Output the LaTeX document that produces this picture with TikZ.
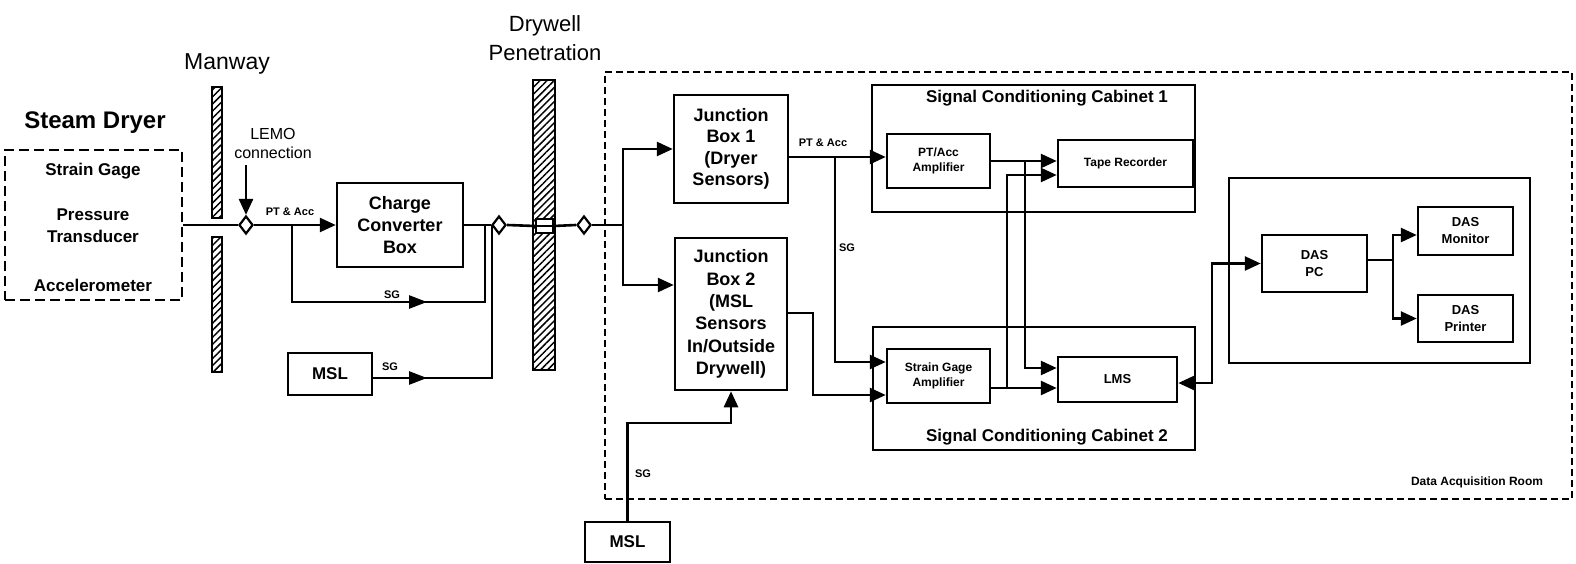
\documentclass[tikz,border=0pt]{standalone}
\usepackage{fontspec}
\setmainfont{Liberation Sans}
\usetikzlibrary{arrows.meta,shapes.geometric,patterns.meta}
\newcommand\myfs[2]{\fontsize{#1}{#2}\selectfont}
\tikzset{
  box/.style={draw,line width=2.5pt,inner sep=0pt,align=center},
  wire/.style={line width=2.6pt},
  arr/.style={wire,-{Triangle[length=16pt,width=14pt]}},
  midarr/.style={wire,-{Triangle[length=18pt,width=13pt]}},
  lbl/.style={font=\bfseries\myfs{11}{13},inner sep=0pt},
  dmd/.style={diamond,draw,fill=white,line width=2.2pt,minimum width=14pt,minimum height=18pt,inner sep=0pt},
  wall/.style={pattern={Lines[angle=45,distance=5pt,line width=1.5pt]},draw,line width=2pt},
}
\begin{document}
\begin{tikzpicture}[x=1pt,y=-1pt]
\useasboundingbox (0,0) rectangle (1576,564);

% titles
\node[font=\bfseries\myfs{24}{28}] (sdtitle) at (95,123) {Steam Dryer};
\node[font=\myfs{23}{26}] (mwtitle) at (227,64) {Manway};
\node[font=\myfs{22}{29},align=center] (dwtitle) at (545,38) {Drywell\\Penetration};

% steam dryer box
\node[draw,line width=2.8pt,dash pattern=on 10pt off 5pt,minimum width=177pt,minimum height=150pt] (sd) at (93.5,225) {};
\node[font=\bfseries\myfs{17}{22}] (sdt1) at (93,171) {Strain Gage};
\node[font=\bfseries\myfs{17}{22},align=center] (sdt2) at (93,226) {Pressure\\Transducer};
\node[font=\bfseries\myfs{17}{22}] (sdt3) at (93,285) {Accelerometer};

% walls
\path[wall] (212,87) rectangle (222,218);
\path[wall] (212,237) rectangle (222,372);
\path[wall] (533,80) rectangle (555,370);
\node[draw,fill=white,line width=1.5pt,minimum width=17pt,minimum height=14pt,inner sep=0pt] (pen) at (544.5,226) {};

% data acquisition room
\node[draw,line width=2pt,dash pattern=on 7pt off 4pt,minimum width=967pt,minimum height=427pt] (dar) at (1088.5,285.5) {};
\node[font=\bfseries\myfs{12}{14}] (darl) at (1477,482) {Data Acquisition Room};

% boxes
\node[box,minimum width=126pt,minimum height=84pt,font=\bfseries\myfs{18}{22}] (cc) at (400,225) {Charge\\Converter\\Box};
\node[box,minimum width=84pt,minimum height=42pt,font=\bfseries\myfs{17}{20}] (msl1) at (330,374) {MSL};
\node[box,minimum width=85pt,minimum height=40pt,font=\bfseries\myfs{17}{20}] (msl2) at (627.5,542) {MSL};
\node[box,minimum width=114pt,minimum height=108pt,font=\bfseries\myfs{18}{21.5}] (jb1) at (731,149) {Junction\\Box 1\\(Dryer\\Sensors)};
\node[box,minimum width=112pt,minimum height=152pt,font=\bfseries\myfs{18}{22.4}] (jb2) at (731,314) {Junction\\Box 2\\(MSL\\Sensors\\In/Outside\\Drywell)};

\node[box,minimum width=323pt,minimum height=127pt] (cab1) at (1033.5,148.5) {};
\node[font=\bfseries\myfs{17}{20}] (cab1t) at (1047,98) {Signal Conditioning Cabinet 1};
\node[box,minimum width=103pt,minimum height=54pt,font=\bfseries\myfs{12}{15}] (pta) at (938.5,161) {PT/Acc\\Amplifier};
\node[box,minimum width=135pt,minimum height=47pt,font=\bfseries\myfs{12}{15}] (tr) at (1125.5,163.5) {Tape Recorder};

\node[box,minimum width=322pt,minimum height=123pt] (cab2) at (1034,388.5) {};
\node[font=\bfseries\myfs{17}{20}] (cab2t) at (1047,437) {Signal Conditioning Cabinet 2};
\node[box,minimum width=103pt,minimum height=54pt,font=\bfseries\myfs{12}{15}] (sga) at (938.5,376) {Strain Gage\\Amplifier};
\node[box,minimum width=119pt,minimum height=45pt,font=\bfseries\myfs{13}{15}] (lms) at (1117.5,379.5) {LMS};

\node[box,minimum width=301pt,minimum height=185pt] (das) at (1379.5,270.5) {};
\node[box,minimum width=105pt,minimum height=57pt,font=\bfseries\myfs{13}{17}] (pc) at (1314.5,263.5) {DAS\\PC};
\node[box,minimum width=95pt,minimum height=48pt,font=\bfseries\myfs{13}{17}] (mon) at (1465.5,231) {DAS\\Monitor};
\node[box,minimum width=95pt,minimum height=47pt,font=\bfseries\myfs{13}{17}] (prn) at (1465.5,318.5) {DAS\\Printer};

% diamonds
\node[dmd] (lemo) at (246,225) {};
\node[dmd] (d2) at (499,225) {};
\node[dmd] (d3) at (584,225) {};

% LEMO label
\node[font=\myfs{16}{19},align=center] (lemot) at (273,143) {LEMO\\connection};
\coordinate (lemoa) at (246,165);
\draw[arr] (lemoa) -- (lemo.north);

% joint coordinates
\coordinate (b1) at (292,225);
\coordinate (b1d) at (292,302);
\coordinate (sgr) at (485,302);
\coordinate (sgu) at (485,225);
\coordinate (sgm) at (427,302);
\coordinate (m1r) at (492,378);
\coordinate (m1u) at (492,225);
\coordinate (m1m) at (427,378);
\coordinate (sp) at (623,225);

% left side wiring
\draw[wire] (sd.east) -- (lemo.west);
\draw[arr] (lemo.east) -- (cc.west);
\draw[wire] (b1) -- (b1d) -- (sgr) -- (sgu);
\draw[midarr] (b1d) -- (sgm);
\draw[wire] ([yshift=-4pt]msl1.east) -- (m1r) -- (m1u);
\draw[midarr] ([yshift=-4pt]msl1.east) -- (m1m);
\draw[wire] (cc.east) -- (d2.west);
\draw[wire] (d2.east) -- (pen.west);
\draw[wire] (pen.east) -- (d3.west);
\draw[wire] (pen.west) -- (pen.east);
\draw[wire] (d3.east) -- (sp);
\draw[arr] (sp) |- (jb1.west);
\draw[arr] (sp) |- ([yshift=29pt]jb2.west);

% labels on wires
\node[lbl] (l1) at (290,212) {PT \& Acc};
\node[lbl] (l2) at (392,295) {SG};
\node[lbl] (l3) at (390,367) {SG};
\node[lbl] (l4) at (823,143) {PT \& Acc};
\node[lbl] (l5) at (847,248) {SG};
\node[lbl] (l6) at (643,474) {SG};

% junction box outputs
\coordinate (j1o) at ([yshift=-8pt]jb1.east);
\coordinate (j1b) at (835,157);
\draw[arr] (j1o) -- (pta.west |- j1o);
\draw[arr] (j1b) |- ([yshift=14pt]sga.west);
\coordinate (j2a) at (813,313);
\draw[arr] (jb2.east |- j2a) -- (j2a) |- ([yshift=-19pt]sga.west);

% MSL 2 to JB2
\coordinate (m2a) at (627.5,423);
\coordinate (m2b) at (731,423);
\draw[arr] (msl2.north) -- (m2a) -- (m2b) -- (jb2.south);

% cabinet wiring
\coordinate (pb) at (1025,161);
\coordinate (sb) at (1007,388);
\draw[arr] (pta.east) -- (tr.west |- pta.east);
\draw[arr] (pb) |- ([yshift=11.5pt]lms.west);
\draw[arr] ([yshift=-12pt]sga.east) -- ([yshift=-8.5pt]lms.west);
\draw[arr] (sb) |- ([yshift=-11.5pt]tr.west);

% LMS <-> DAS PC
\coordinate (lpa) at (1212,383);
\draw[wire,{Triangle[length=16pt,width=14pt]}-{Triangle[length=16pt,width=14pt]}] ([yshift=-3.5pt]lms.east) -- (lpa) |- (pc.west);

% DAS PC outputs
\coordinate (pcs) at (1393,260);
\draw[wire] ([yshift=3.5pt]pc.east) -- (pcs);
\draw[arr] (pcs) |- ([yshift=-4pt]mon.west);
\draw[arr] (pcs) |- (prn.west);
\end{tikzpicture}
\end{document}
